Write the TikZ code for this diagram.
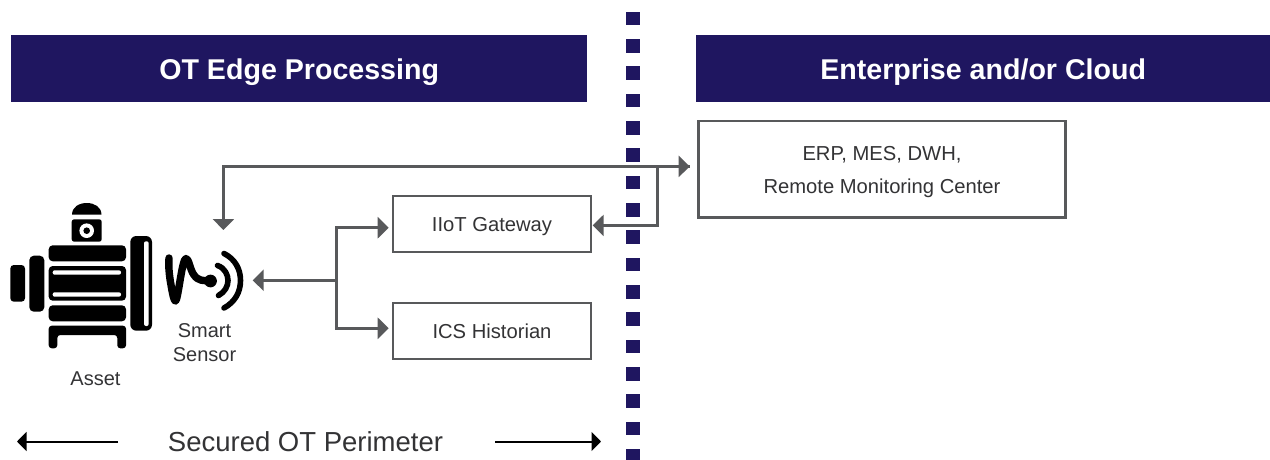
\documentclass[tikz,border=0pt]{standalone}
\usepackage{fontspec}
\setmainfont{Liberation Sans}
\usetikzlibrary{arrows.meta,calc}
\definecolor{navy}{HTML}{1F1660}
\definecolor{linegray}{HTML}{58595B}
\definecolor{txt}{HTML}{333335}
\newcommand{\lowertext}[1]{\raisebox{-3pt}[\height][\depth]{#1}}
\tikzset{
  banner/.style={fill=navy,text=white,font=\fontsize{28.6}{34}\selectfont\bfseries,inner sep=0pt,minimum height=67pt,anchor=north west},
  sqdot/.style={fill=navy,draw=none,inner sep=0pt,minimum size=13.6pt},
  boxnode/.style={draw=linegray,line width=2.8pt,fill=white,text=txt,inner sep=0pt,font=\fontsize{20.2}{33}\selectfont,align=center},
  lbl/.style={text=txt,inner sep=0pt,font=\fontsize{20}{23.5}\selectfont,align=center},
  conn/.style={draw=linegray,line width=3pt,-{Triangle[length=11pt,width=21pt]},color=linegray},
  plainconn/.style={draw=linegray,line width=3pt},
  perim/.style={draw=black,line width=2pt,-{Triangle[length=9.5pt,width=19pt]}},
  icon/.style={fill=black,draw=none},
  sigstroke/.style={draw=black,line cap=round,line join=round,fill=none}
}
\begin{document}
\begin{tikzpicture}[x=1pt,y=-1pt]
\useasboundingbox (0,0) rectangle (1270,460);
% banners
\node[banner,minimum width=576pt] (otb) at (11,35) {\lowertext{OT Edge Processing}};
\node[banner,minimum width=574pt] (entb) at (696,35) {\lowertext{Enterprise and/or Cloud}};
% dotted divider
\foreach \i in {0,...,16}{
  \node[sqdot] (dot\i) at (632.9,{18.5+27.33*\i}) {};
}
% boxes
\node[boxnode,minimum width=367.6pt,minimum height=96.4pt] (erp) at (882,169.2) {\lowertext{ERP, MES, DWH,}\\\lowertext{Remote Monitoring Center}};
\node[boxnode,minimum width=198pt,minimum height=56pt] (gw) at (492,224) {\lowertext{IIoT Gateway}};
\node[boxnode,minimum width=198pt,minimum height=56pt] (hist) at (492,331) {ICS Historian};
% labels
\node[lbl] (sensorlbl) at (204.5,342.5) {Smart\\Sensor};
\node[lbl] (assetlbl) at (95.5,379) {Asset};
\node[text=txt,inner sep=0pt,font=\fontsize{27.5}{32}\selectfont] (perimlbl) at (305.5,441.5) {Secured OT Perimeter};
% motor icon
\fill[icon] (72,214.7) .. controls (72,207) and (79,203) .. (86.8,203) .. controls (94.5,203) and (101.5,207) .. (101.5,214.7) -- cycle;
\fill[icon,rounded corners=2.5pt] (71.7,219.3) rectangle (101.7,241.7);
\fill[white] (86.7,230.7) circle (7.3);
\fill[icon] (86.7,230.7) circle (3.3);
\fill[icon,rounded corners=4pt] (48.7,245.3) rectangle (126,261.3);
\fill[icon,rounded corners=4pt] (48.7,266) rectangle (126,300.7);
\fill[white,rounded corners=2pt] (52.7,270.3) rectangle (121,274.7);
\fill[white,rounded corners=2pt] (52.7,292.3) rectangle (121,296.7);
\fill[icon,rounded corners=4pt] (48.7,305.3) rectangle (126,321.3);
\fill[icon,rounded corners=3pt] (48.7,348.3) -- (48.7,325.7) -- (126,325.7) -- (126,348.3) -- (117.3,348.3) -- (117.3,335) -- (57.3,335) -- (57.3,348.3) -- cycle;
\fill[icon,rounded corners=3.5pt] (10.3,265) rectangle (25,301.7);
\fill[icon,rounded corners=4.5pt] (29.3,255.7) rectangle (44.3,311.7);
\fill[icon,rounded corners=6pt] (130.3,236) rectangle (152,330.7);
\fill[white,rounded corners=2pt] (144,241.3) rectangle (148.7,326);
% sensor icon
\draw[sigstroke,line width=7.4pt] (169,258) .. controls (168.5,266) and (169,272) .. (170,279)
  .. controls (171.5,288) and (173.5,301) .. (175.5,301)
  .. controls (178,301) and (182,258.5) .. (186,258.5)
  .. controls (189,258.5) and (190,270) .. (194,275)
  .. controls (198,281) and (204,281) .. (210,280.5);
\fill[icon] (210.5,281) circle (6.4);
\draw[sigstroke,line width=5.6pt] (217.5,265.5) .. controls (225,268) and (228,275) .. (228,280.5) .. controls (228,286) and (225,292) .. (218.5,295.5);
\draw[sigstroke,line width=5.6pt] (224,253.5) .. controls (235,259) and (240.5,269) .. (240.5,280.5) .. controls (240.5,292) and (235,302) .. (224,308);
% connector end points
\coordinate (topin) at (689.7,166.4);
\coordinate (topcorner) at (223.4,166.4);
\coordinate (sensortop) at (223.4,230);
\coordinate (branch) at (657.4,166.4);
\coordinate (gwturn) at (657.4,225.4);
\coordinate (gwright) at (592.7,225.4);
\coordinate (hub) at (336.8,280.3);
\coordinate (sensorright) at (252.7,280.3);
\coordinate (gwleftturn) at (336.8,227.7);
\coordinate (gwleft) at (388.7,227.7);
\coordinate (histleftturn) at (336.8,328.3);
\coordinate (histleft) at (388.7,328.3);
\coordinate (pla) at (118,441.5);
\coordinate (plb) at (17,441.5);
\coordinate (pra) at (495,441.5);
\coordinate (prb) at (601,441.5);
% connectors
\draw[conn,line join=miter] (topin) -- (topcorner) -- (sensortop);
\draw[conn] (topcorner) -- (topin);
\draw[conn,line join=miter] (branch) -- (gwturn) -- (gwright);
\draw[conn] (hub) -- (sensorright);
\draw[plainconn,line cap=rect] (gwleftturn) -- (histleftturn);
\draw[conn] (gwleftturn) -- (gwleft);
\draw[conn] (histleftturn) -- (histleft);
% perimeter arrows
\draw[perim] (pla) -- (plb);
\draw[perim] (pra) -- (prb);
\end{tikzpicture}
\end{document}
